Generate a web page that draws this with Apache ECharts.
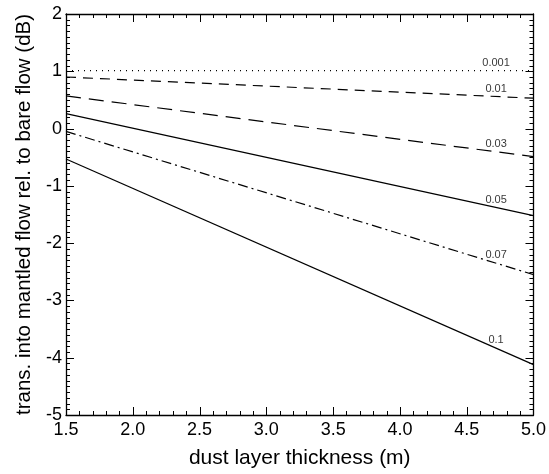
<!DOCTYPE html>
<html>
<head>
<meta charset="utf-8">
<script src="https://cdn.jsdelivr.net/npm/echarts@6/dist/echarts.min.js"></script>
<style>
html,body{margin:0;padding:0;background:#fff;}
#c{width:549px;height:474px;}
</style>
</head>
<body>
<div id="c"></div>
<script>
// Data
var thickness = [1.5, 5.0];
var curveNames = ['0.001', '0.01', '0.03', '0.05', '0.07', '0.1'];
var v0001 = [1.01, 1.01];
var v001 = [0.90, 0.53];
var v003 = [0.57, -0.49];
var v005 = [0.26, -1.52];
var v007 = [-0.05, -2.55];
var v01 = [-0.53, -4.12];
var seriesValues = [v0001, v001, v003, v005, v007, v01];
var labelAtX = 4.72;
var xTicks = ['1.5','2.0','2.5','3.0','3.5','4.0','4.5','5.0'];
var yTicks = ['-5','-4','-3','-2','-1','0','1','2'];

var X_MIN = 1.5, X_MAX = 5.0, Y_MIN = -5, Y_MAX = 2;
var dashStyles = [[1,5],[10,7],[15,8],'solid',[10,4,2,4],'solid'];
var FONT = 'Liberation Sans, Arial, Helvetica, sans-serif';

function valueAt(vals, x) {
  var t = (x - thickness[0]) / (thickness[thickness.length-1] - thickness[0]);
  return vals[0] + t * (vals[vals.length-1] - vals[0]);
}

var series = seriesValues.map(function (vals, i) {
  return {
    type: 'line',
    name: curveNames[i],
    xAxisIndex: 0, yAxisIndex: 0,
    data: thickness.map(function (x, j) { return [x, vals[j]]; }),
    symbol: 'none',
    lineStyle: { color: '#000', width: 1.2, type: dashStyles[i] }
  };
});
series.push({
  type: 'scatter',
  xAxisIndex: 0, yAxisIndex: 0,
  symbolSize: 0,
  data: seriesValues.map(function (vals) { return [labelAtX, valueAt(vals, labelAtX)]; }),
  label: {
    show: true, position: 'inside', offset: [0, -8],
    formatter: function (p) { return curveNames[p.dataIndex]; },
    color: '#000', fontSize: 11, fontFamily: FONT
  }
});

function line() { return { show: true, onZero: false, lineStyle: { color: '#000', width: 1.3 } }; }

var chart = echarts.init(document.getElementById('c'), null, { renderer: 'canvas' });
chart.setOption({
  animation: false,
  backgroundColor: '#fff',
  grid: { left: 66, right: 11, top: 14, bottom: 59 },
  xAxis: [{
    type: 'value', min: X_MIN, max: X_MAX, interval: 0.5, position: 'bottom',
    name: 'dust layer thickness (m)', nameLocation: 'middle', nameGap: 33,
    nameTextStyle: { fontSize: 21, fontFamily: FONT, color: '#000' },
    axisLine: line(), axisTick: { show: false }, minorTick: { show: false },
    splitLine: { show: false },
    axisLabel: { show: true, fontSize: 18, fontFamily: FONT, color: '#000', margin: 6,
      formatter: function (v) { var s = v.toFixed(1); return xTicks.indexOf(s) >= 0 ? s : ''; } }
  }, {
    type: 'value', min: X_MIN, max: X_MAX, interval: 0.5, position: 'top',
    axisLine: line(), axisTick: { show: false }, splitLine: { show: false }, axisLabel: { show: false }
  }],
  yAxis: [{
    type: 'value', min: Y_MIN, max: Y_MAX, interval: 1, position: 'left',
    name: 'trans. into mantled flow rel. to bare flow (dB)', nameLocation: 'middle', nameGap: 29,
    nameTextStyle: { fontSize: 20.5, fontFamily: FONT, color: '#000' },
    axisLine: line(), axisTick: { show: false }, minorTick: { show: false },
    splitLine: { show: false },
    axisLabel: { show: true, fontSize: 18, fontFamily: FONT, color: '#000', margin: 4,
      formatter: function (v) { var s = String(v); return yTicks.indexOf(s) >= 0 ? s : ''; } }
  }, {
    type: 'value', min: Y_MIN, max: Y_MAX, interval: 1, position: 'right',
    axisLine: line(), axisTick: { show: false }, splitLine: { show: false }, axisLabel: { show: false }
  }],
  series: series
});

// Tick marks (major + minor) on all four sides, positioned through the axis scales
function drawTicks() {
  var els = [];
  function seg(x1, y1, x2, y2) {
    els.push({ type: 'line', silent: true, z: 100,
      shape: { x1: x1, y1: y1, x2: x2, y2: y2 },
      style: { stroke: '#000', lineWidth: 1 } });
  }
  var k, v, len, a, b, p;
  for (k = 15; k <= 50; k++) {
    v = k / 10; len = (k % 5 === 0) ? 8 : 4;
    a = chart.convertToPixel({ gridIndex: 0 }, [v, Y_MIN]);
    b = chart.convertToPixel({ gridIndex: 0 }, [v, Y_MAX]);
    p = Math.round(a[0]) + 0.5;
    seg(p, a[1], p, a[1] - len);
    seg(p, b[1], p, b[1] + len);
  }
  for (k = -50; k <= 20; k++) {
    v = k / 10; len = (k % 10 === 0) ? 8 : 4;
    a = chart.convertToPixel({ gridIndex: 0 }, [X_MIN, v]);
    b = chart.convertToPixel({ gridIndex: 0 }, [X_MAX, v]);
    p = Math.round(a[1]) + 0.5;
    seg(a[0], p, a[0] + len, p);
    seg(b[0], p, b[0] - len, p);
  }
  chart.setOption({ graphic: [{ type: 'group', silent: true, z: 100, children: els }] });
}
drawTicks();
</script>
</body>
</html>
